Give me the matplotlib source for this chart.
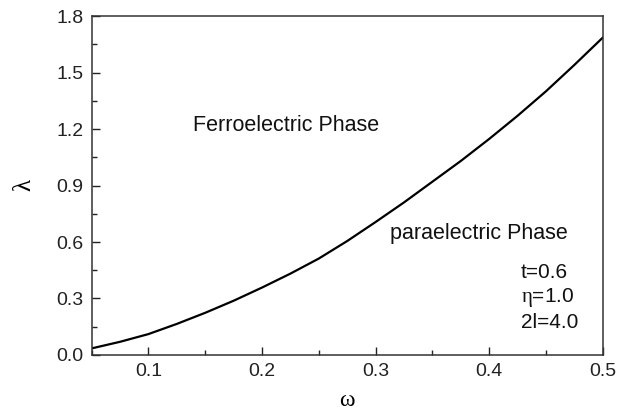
import matplotlib
matplotlib.use("Agg")
import matplotlib.pyplot as plt
from matplotlib.ticker import MultipleLocator

plt.rcParams['font.family'] = ['Liberation Sans', 'DejaVu Sans']
plt.rcParams['mathtext.fontset'] = 'custom'
plt.rcParams['mathtext.rm'] = 'Liberation Sans'
plt.rcParams['mathtext.it'] = 'Liberation Serif'

# phase boundary
omega = [0.05, 0.075, 0.1, 0.125, 0.15, 0.175, 0.2, 0.225, 0.25, 0.275,
         0.3, 0.325, 0.35, 0.375, 0.4, 0.425, 0.45, 0.475, 0.5]
lam = [0.035, 0.07, 0.111, 0.165, 0.224, 0.288, 0.358, 0.432, 0.512, 0.605,
       0.706, 0.81, 0.92, 1.03, 1.147, 1.27, 1.40, 1.54, 1.685]

params = ["t=0.6", r"$\eta$=1.0", "2l=4.0"]

fig = plt.figure(figsize=(6.28, 4.15), dpi=100)
ax = fig.add_axes([0.1459, 0.1446, 0.8138, 0.8168])

ax.plot(omega, lam, color="black", lw=1.6)

ax.set_xlim(0.05, 0.5)
ax.set_ylim(0.0, 1.8)
ax.xaxis.set_major_locator(MultipleLocator(0.1))
ax.xaxis.set_minor_locator(MultipleLocator(0.05))
ax.yaxis.set_major_locator(MultipleLocator(0.3))
ax.yaxis.set_minor_locator(MultipleLocator(0.15))
ax.set_xticks([0.1, 0.2, 0.3, 0.4, 0.5])
ax.set_xticklabels(["0.1", "0.2", "0.3", "0.4", "0.5"])
ax.set_yticks([0.0, 0.3, 0.6, 0.9, 1.2, 1.5, 1.8])
ax.set_yticklabels(["0.0", "0.3", "0.6", "0.9", "1.2", "1.5", "1.8"])

ax.tick_params(which="both", direction="in", top=False, right=False,
               labelsize=14, colors="#222222")
ax.tick_params(which="major", length=6, width=1)
ax.tick_params(which="minor", length=3.5, width=1)
ax.tick_params(axis="x", pad=6)
ax.tick_params(axis="y", pad=6)
for sp in ax.spines.values():
    sp.set_linewidth(1.1)
    sp.set_color("#333333")

ax.set_xlabel(r"$\omega$", fontsize=17)
ax.set_ylabel(r"$\lambda$", fontsize=18)
ax.xaxis.set_label_coords(0.5, -0.1)
ax.yaxis.set_label_coords(-0.108, 0.5)

ax.text(0.139, 1.218, "Ferroelectric Phase", fontsize=15.5, va="center",
        color="#111111")
ax.text(0.313, 0.646, "paraelectric Phase", fontsize=15.5, va="center",
        color="#111111")
for i, s in enumerate(params):
    ax.text(0.428, 0.44 - i * 0.133, s, fontsize=15, va="center",
            color="#111111")

fig.savefig("out.png", dpi=100)
